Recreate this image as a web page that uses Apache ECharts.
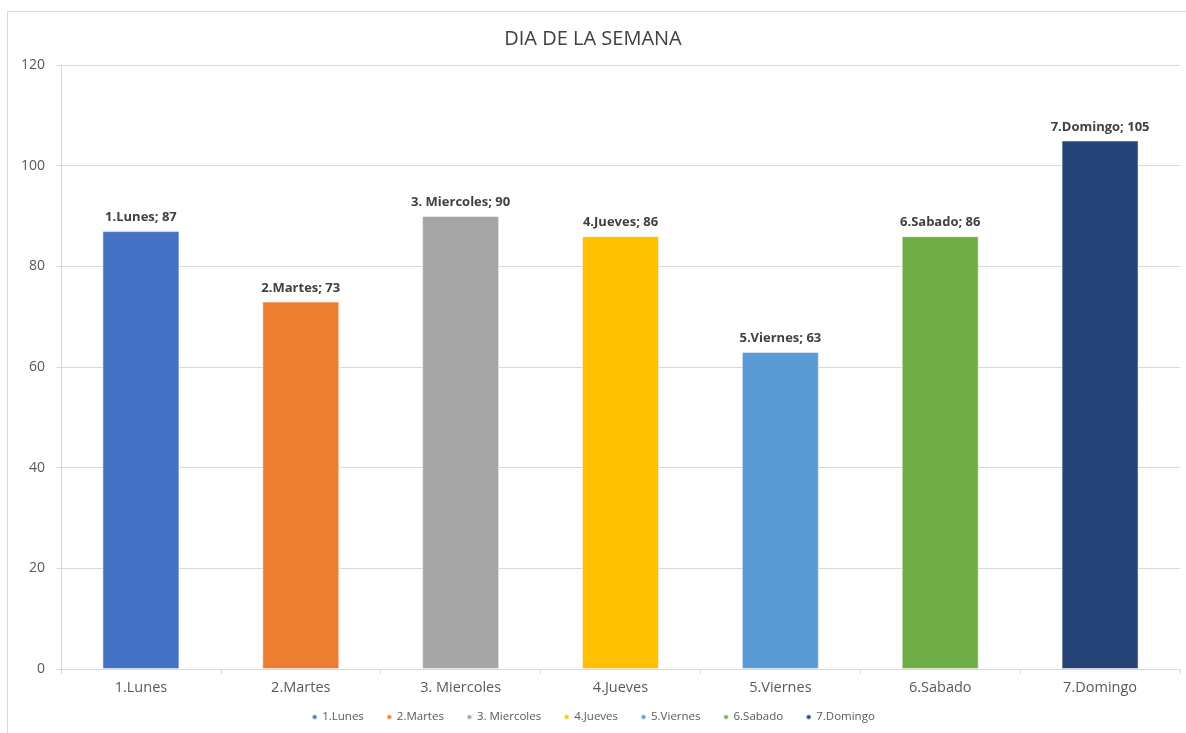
<!DOCTYPE html>
<html>
<head>
<meta charset="utf-8">
<script src="https://cdn.jsdelivr.net/npm/echarts@6/dist/echarts.min.js"></script>
<style>
  html, body { margin: 0; padding: 0; background: #fff; overflow: hidden; }
  #frame { position: absolute; left: 7px; top: 11px; width: 1200px; height: 740px; border: 1px solid #d9d9d9; box-sizing: border-box; }
  #chart { position: absolute; left: 0; top: 0; width: 1186px; height: 733px; }
</style>
</head>
<body>
<div id="frame"></div>
<div id="chart"></div>
<script>
// datos del grafico
var dias = ["1.Lunes", "2.Martes", "3. Miercoles", "4.Jueves", "5.Viernes", "6.Sabado", "7.Domingo"];
var valores = [87, 73, 90, 86, 63, 86, 105];
var colores = ["#4472C4", "#ED7D31", "#A5A5A5", "#FFC000", "#5B9BD5", "#70AD47", "#264478"];
var yTicks = [0, 20, 40, 60, 80, 100, 120];

var font = "'Open Sans', sans-serif";

// una serie por dia para que la leyenda muestre cada uno
var series = dias.map(function (d, i) {
  var data = dias.map(function (x, j) { return j === i ? valores[j] : "-"; });
  return {
    name: d,
    type: "bar",
    stack: "dia",
    barWidth: 77,
    data: data,
    itemStyle: { color: colores[i], borderColor: "rgba(255,255,255,0.5)", borderWidth: 1 },
    label: {
      show: true,
      position: "top",
      distance: 7,
      color: "#404040",
      fontWeight: "bold",
      fontSize: 13,
      fontFamily: font,
      formatter: function (p) { return p.name + "; " + p.value; }
    }
  };
});

var chart = echarts.init(document.getElementById("chart"));
chart.setOption({
  animation: false,
  title: {
    text: "DIA DE LA SEMANA",
    left: "center",
    top: 24,
    textStyle: { color: "#404040", fontSize: 20, fontWeight: "normal", fontFamily: font }
  },
  legend: {
    bottom: 5,
    left: "center",
    icon: "circle",
    itemWidth: 5,
    itemHeight: 5,
    itemGap: 22,
    textStyle: { color: "#595959", fontSize: 11.5, fontFamily: font },
    data: dias
  },
  grid: { left: 61, right: 6, top: 65, bottom: 64, containLabel: false },
  xAxis: {
    type: "category",
    data: dias,
    axisLine: { lineStyle: { color: "#d9d9d9" } },
    axisTick: { show: true, alignWithLabel: false, length: 5, lineStyle: { color: "#d9d9d9" } },
    axisLabel: { color: "#595959", fontSize: 14.5, fontFamily: font, margin: 11 }
  },
  yAxis: {
    type: "value",
    min: yTicks[0],
    max: yTicks[yTicks.length - 1],
    interval: 20,
    axisLine: { show: true, lineStyle: { color: "#d9d9d9" } },
    axisTick: { show: true, length: 5, lineStyle: { color: "#d9d9d9" } },
    axisLabel: { color: "#595959", fontSize: 14, fontFamily: font, margin: 16 },
    splitLine: { lineStyle: { color: "#d9d9d9" } }
  },
  series: series
});
</script>
</body>
</html>
